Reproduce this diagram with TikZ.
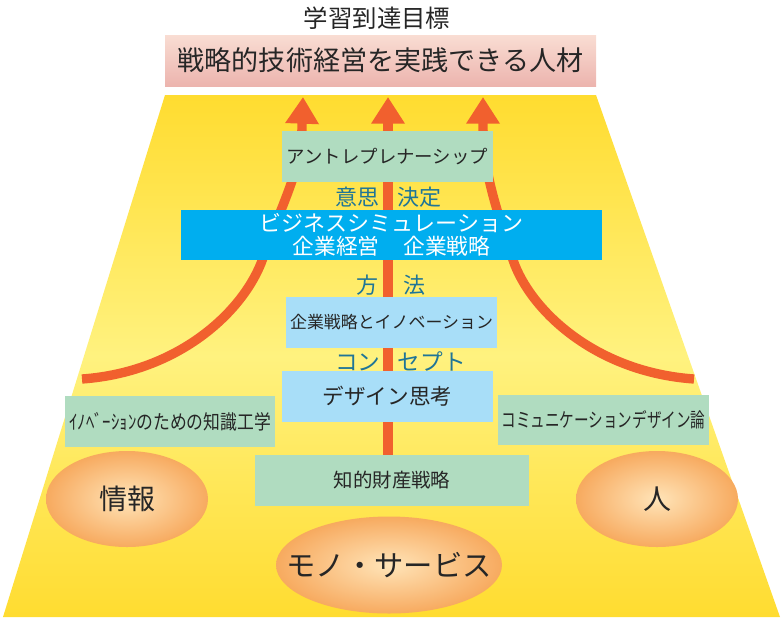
\documentclass[tikz,border=0pt]{standalone}
\usepackage{fontspec}
\setmainfont{Noto Sans CJK JP}
\usetikzlibrary{arrows.meta}
\usetikzlibrary{backgrounds}
\usetikzlibrary{shapes.geometric}
\definecolor{fieldyellow}{HTML}{FFDC30}
\definecolor{fieldlight}{HTML}{FFF27F}
\definecolor{flowred}{HTML}{F1602E}
\definecolor{boxgreen}{HTML}{B0DCC0}
\definecolor{boxsky}{HTML}{A8DEF8}
\definecolor{boxblue}{HTML}{00AEEF}
\definecolor{wordblue}{HTML}{1F7597}
\definecolor{inkdark}{HTML}{262626}
\definecolor{goaltop}{HTML}{F9DDD3}
\definecolor{goalbottom}{HTML}{ECB4AE}
\definecolor{ovalinner}{HTML}{FFE4B8}
\definecolor{ovalouter}{HTML}{F7AA5F}
\newcommand{\pxfont}[1]{\fontsize{#1}{#1}\selectfont}
\tikzset{
  course box/.style n args={3}{
    rectangle,
    inner sep=0pt,
    align=center,
    text=inkdark,
    fill=#1,
    minimum width=#2*0.75pt,
    minimum height=#3*0.75pt,
  }
}
\tikzset{
  base oval/.style n args={2}{
    ellipse,
    inner sep=0pt,
    text=inkdark,
    inner color=ovalinner,
    outer color=ovalouter,
    minimum width=#1*0.75pt,
    minimum height=#2*0.75pt,
  }
}
\tikzset{
  step word/.style={
    text=wordblue,
    inner sep=0pt,
    font=\pxfont{16.5},
  }
}
\tikzset{
  flow line/.style={
    draw=flowred,
    line width=7pt,
    -{Triangle[width=24pt,length=20pt]},
  }
}

\begin{document}
\begin{tikzpicture}[
    x=0.75pt,
    y=-0.75pt,
    ]

    \useasboundingbox (0,0) rectangle (784,622);

    \node[inner sep=0pt,text=inkdark,font=\pxfont{18.3}] (target) at (377,18) {学習到達目標};
    \node[course box={goaltop}{431}{51},top color=goaltop,bottom color=goalbottom,font=\pxfont{20.3}]
      (goal) at (380.5,60.5) {戦略的技術経営を実践できる人材};

    \node[course box={boxgreen}{211}{51},font=\pxfont{13.8}]
      (entre) at (387.5,156.5) {アントレプレナーシップ};
    \node[step word] (decide) at (388.5,197) {意思\hspace{14pt}決定};
    \node[course box={boxblue}{421}{50},text=white,font=\pxfont{16.5}]
      (bizsim) at (391.5,235) {ビジネスシミュレーション\\[1pt]\pxfont{16.3}企業経営\hspace{18pt}企業戦略};
    \node[step word] (method) at (391,285) {方\hspace{19.5pt}法};
    \node[course box={boxsky}{211}{51},font=\pxfont{12.7}]
      (strategy) at (391.5,322.5) {企業戦略とイノベーション};
    \node[step word,font=\pxfont{17}] (concept) at (400.5,361) {コン\hspace{13pt}セプト};
    \node[course box={boxsky}{211}{51},font=\pxfont{16.2}]
      (design) at (387.5,396.5) {デザイン思考};
    \node[course box={boxgreen}{210}{51},font=\pxfont{15}]
      (knowledge) at (170,421.5) {\scalebox{0.84}[1]{ｲﾉﾍﾞｰｼｮﾝのための知識工学}};
    \node[course box={boxgreen}{211}{50},font=\pxfont{15}]
      (comm) at (603.5,420) {\scalebox{0.73}[1]{コミュニケーションデザイン論}};
    \node[course box={boxgreen}{274}{51},font=\pxfont{14.6}]
      (patent) at (392,480.5) {知的財産戦略};

    \node[base oval={162}{96},font=\pxfont{21}] (info) at (127,499) {\makebox[0pt]{情報}};
    \node[base oval={162}{96},font=\pxfont{21}] (people) at (657,499) {\makebox[0pt]{人}};
    \node[base oval={226}{97},font=\pxfont{22}] (goods) at (389,565) {\makebox[0pt]{モノ・サービス}};

    \coordinate (tipleft) at (303,97);
    \coordinate (tipmid) at (388,97);
    \coordinate (tipright) at (483,97);
    \coordinate (startleft) at (82,379);
    \coordinate (startright) at (694,379);

    \begin{scope}[on background layer]
      \shade[top color=fieldyellow,bottom color=fieldyellow,middle color=fieldlight]
        (165,95) -- (596,95) -- (780,617) -- (3,617) -- cycle;
      \draw[flow line] (patent.north -| tipmid) -- (tipmid);
      \draw[flow line] (startleft) .. controls (180,372) and (245,310) .. (263,258)
        .. controls (283,200) and (302,170) .. (302,125) -- (tipleft);
      \draw[flow line] (startright) .. controls (595,372) and (530,310) .. (513,260)
        .. controls (495,205) and (483,170) .. (483,125) -- (tipright);
    \end{scope}

  \end{tikzpicture}
\end{document}
